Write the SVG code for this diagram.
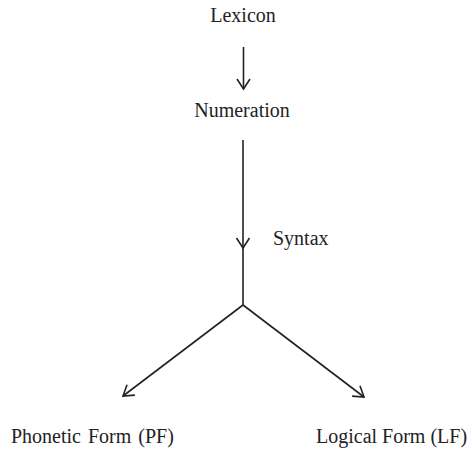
<svg xmlns="http://www.w3.org/2000/svg" width="471" height="450" viewBox="0 0 471 450">
<defs>
<style>
.lbl{font-family:"Liberation Serif","Times New Roman",serif;font-size:20px;fill:#222;}
.edge{stroke:#222;stroke-width:1.6;fill:none;}
</style>
<marker id="arr" markerUnits="userSpaceOnUse" markerWidth="24" markerHeight="24" refX="0" refY="0" viewBox="-12 -12 24 24" orient="auto" overflow="visible">
<path d="M-10,-6.5 L0,0 L-10,6.5" fill="none" stroke="#222" stroke-width="1.6"/>
</marker>
</defs>
<rect width="471" height="450" fill="#fff"/>
<g id="connectors">
<path class="edge" d="M243.5,47 L243.5,89" marker-end="url(#arr)"/>
<path class="edge" d="M243,140 L243,248" marker-end="url(#arr)"/>
<path class="edge" d="M243,246 L243,305"/>
<path class="edge" d="M243,305 L123,396" marker-end="url(#arr)"/>
<path class="edge" d="M243,305 L364,397" marker-end="url(#arr)"/>
</g>
<g id="lexicon"><text class="lbl" x="243" y="22" text-anchor="middle">Lexicon</text></g>
<g id="numeration"><text class="lbl" x="242" y="117" text-anchor="middle">Numeration</text></g>
<g id="syntax"><text class="lbl" x="273" y="245">Syntax</text></g>
<g id="pf"><text class="lbl" x="11" y="443" word-spacing="2">Phonetic Form (PF)</text></g>
<g id="lf"><text class="lbl" x="316" y="443">Logical Form (LF)</text></g>
</svg>
